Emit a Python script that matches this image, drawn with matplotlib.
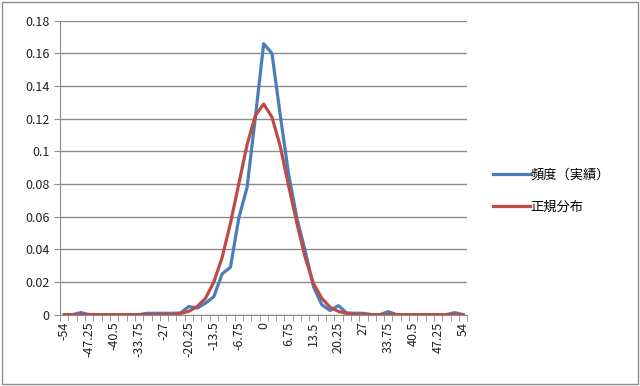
import numpy as np
import matplotlib.pyplot as plt
from matplotlib.patches import Rectangle

plt.rcParams['font.family'] = ['Noto Sans CJK JP', 'DejaVu Sans']

# 階級 (-54 から 54 まで 2.25 刻み)
bins = [-54, -51.75, -49.5, -47.25, -45, -42.75, -40.5, -38.25, -36, -33.75,
        -31.5, -29.25, -27, -24.75, -22.5, -20.25, -18, -15.75, -13.5, -11.25,
        -9, -6.75, -4.5, -2.25, 0, 2.25, 4.5, 6.75, 9, 11.25,
        13.5, 15.75, 18, 20.25, 22.5, 24.75, 27, 29.25, 31.5, 33.75,
        36, 38.25, 40.5, 42.75, 45, 47.25, 49.5, 51.75, 54]

freq = [0, 0, 0.0012, 0, 0, 0, 0, 0, 0, 0,
        0.0008, 0.0008, 0.0008, 0.0008, 0.001, 0.005, 0.004, 0.007, 0.011, 0.025,
        0.029, 0.059, 0.078, 0.121, 0.166, 0.160, 0.122, 0.086, 0.059, 0.039,
        0.017, 0.006, 0.0025, 0.0055, 0.001, 0.0008, 0.0008, 0, 0, 0.0018,
        0, 0, 0, 0, 0, 0, 0, 0.0012, 0]

normal = [0, 0, 0, 0, 0, 0, 0, 0, 0, 0,
          0, 0, 0, 0.0002, 0.0007, 0.002, 0.005, 0.010, 0.020, 0.035,
          0.056, 0.080, 0.104, 0.122, 0.129, 0.121, 0.103, 0.079, 0.056, 0.035,
          0.019, 0.010, 0.0045, 0.0019, 0.0007, 0.0002, 0, 0, 0,
          0, 0, 0, 0, 0, 0, 0, 0, 0, 0]

labels = ['-54', '-47.25', '-40.5', '-33.75', '-27', '-20.25', '-13.5', '-6.75', '0',
          '6.75', '13.5', '20.25', '27', '33.75', '40.5', '47.25', '54']

idx = np.arange(len(bins))

fig = plt.figure(figsize=(6.4, 3.86), dpi=100)
ax = fig.add_axes([0.094, 0.185, 0.636, 0.761])

ax.plot(idx, freq, color='#4a7ebb', lw=2.3, label='頻度（実績）', solid_joinstyle='round')
ax.plot(idx, normal, color='#be4b48', lw=2.3, label='正規分布', solid_joinstyle='round')

ax.set_xlim(-0.5, len(bins) - 0.5)
ax.set_ylim(0, 0.18)
ax.set_yticks(np.arange(0, 0.181, 0.02))
ax.set_yticklabels(['0', '0.02', '0.04', '0.06', '0.08', '0.1', '0.12', '0.14', '0.16', '0.18'])
ax.yaxis.grid(True, color='#8c8c8c', lw=1)
ax.set_axisbelow(True)

ax.set_xticks(idx[::3])
ax.set_xticklabels(labels, rotation=90)
ax.set_xticks(np.arange(-0.5, len(bins)), minor=True)
ax.tick_params(axis='x', which='major', length=0, pad=5, labelsize=9, colors='#222222')
ax.tick_params(axis='x', which='minor', length=4, color='#8c8c8c')
ax.tick_params(axis='y', length=4, color='#8c8c8c', labelsize=9, labelcolor='#222222')

for s in ['top', 'right']:
    ax.spines[s].set_visible(False)
for s in ['left', 'bottom']:
    ax.spines[s].set_color('#8c8c8c')

fig.legend(loc='center left', bbox_to_anchor=(0.752, 0.505), frameon=False,
           fontsize=9.5, handlelength=2.8, handletextpad=0.05, labelspacing=1.45)

fig.patches.append(Rectangle((0.003, 0.005), 0.994, 0.99, transform=fig.transFigure,
                             fill=False, edgecolor='#8c8c8c', lw=1))

fig.savefig('out.png', dpi=100)
